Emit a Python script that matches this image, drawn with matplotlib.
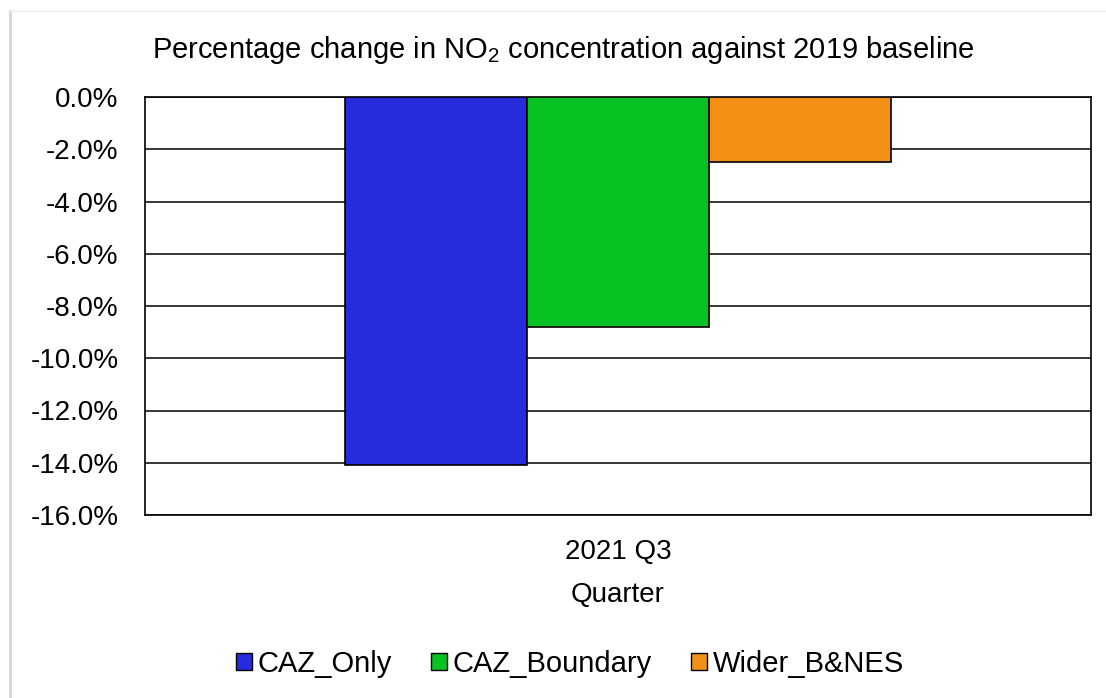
import matplotlib
matplotlib.use("Agg")
import matplotlib.pyplot as plt
from matplotlib.patches import Patch
from matplotlib.ticker import FuncFormatter, MultipleLocator

plt.rcParams['font.family'] = ['Liberation Sans', 'DejaVu Sans']
plt.rcParams['mathtext.fontset'] = 'custom'
plt.rcParams['mathtext.rm'] = 'Liberation Sans'
plt.rcParams['mathtext.it'] = 'Liberation Sans:italic'

categories = ["2021 Q3"]
series_names = ["CAZ_Only", "CAZ_Boundary", "Wider_B&NES"]
series_values = [-14.1, -8.8, -2.5]
colors = ["#262bdb", "#08c122", "#f39117"]

fig = plt.figure(figsize=(11.06, 6.98), dpi=100)
ax = fig.add_axes([145/1106, 1-515/698, (1091-145)/1106, (515-97)/698])

bw = 0.1926
offsets = [-bw, 0, bw]
for name, val, col, off in zip(series_names, series_values, colors, offsets):
    ax.bar(0 + off, val, width=bw, color=col, edgecolor='black', linewidth=1.2, zorder=3, label=name)

ax.set_xlim(-0.5, 0.5)
ax.set_ylim(-16, 0)
ax.yaxis.set_major_locator(MultipleLocator(2))
ax.yaxis.set_major_formatter(FuncFormatter(lambda v, p: f"{v:.1f}%"))
ax.grid(axis='y', color='black', linewidth=1.1, zorder=1)
ax.set_xticks([0])
ax.set_xticklabels(categories)
ax.tick_params(axis='both', length=0, labelsize=20)
ax.tick_params(axis='y', pad=19)
ax.tick_params(axis='x', pad=17.5)
for s in ax.spines.values():
    s.set_color('black')
    s.set_linewidth(1.2)
ax.set_xlabel("Quarter", fontsize=20, labelpad=12)

fig.text(563/1106, 1-50/698, r"Percentage change in NO$_2$ concentration against 2019 baseline",
         ha='center', va='center', fontsize=21)

handles = [Patch(facecolor=c, edgecolor='black', linewidth=1.0) for c in colors]
fig.legend(handles, series_names, loc='center', bbox_to_anchor=(570/1106, 1-664/698),
           ncol=3, frameon=False, fontsize=21, handlelength=0.55, handleheight=0.55,
           handletextpad=0.2, columnspacing=1.33)

# outer chart border (light grey)
fig.add_artist(plt.Line2D([10/1106, 10/1106], [0, 1-11/698], transform=fig.transFigure,
                          color='#d9d9d9', linewidth=2.2))
fig.add_artist(plt.Line2D([10/1106, 1], [1-11/698, 1-11/698], transform=fig.transFigure,
                          color='#efefef', linewidth=1.0))

fig.savefig("out.png", dpi=100)
